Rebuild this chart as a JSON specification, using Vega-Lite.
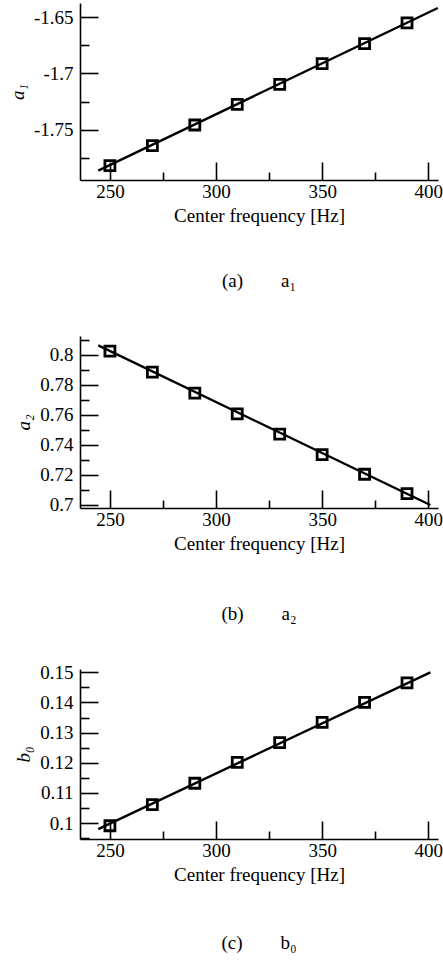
{
  "$schema": "https://vega.github.io/schema/vega-lite/v6.json",
  "padding": {"left": 8, "top": 3, "right": 0, "bottom": 4},
  "background": "white",
  "spacing": 39,
  "config": {
    "font": "Liberation Serif",
    "view": {"stroke": null},
    "axis": {
      "grid": false,
      "domainColor": "black",
      "domainWidth": 1.6,
      "tickColor": "black",
      "tickWidth": 1.6,
      "labelFont": "Liberation Serif",
      "labelFontSize": 19,
      "labelColor": "black",
      "titleFont": "Liberation Serif",
      "titleFontSize": 19,
      "titleFontWeight": "normal",
      "titleColor": "black",
      "labelOverlap": false,
      "labelFlush": false
    },
    "title": {"font": "Liberation Serif", "fontSize": 19, "fontWeight": "normal", "color": "black", "orient": "bottom"}
  },
  "datasets": {
    "a1": [
      {"f": 250, "v": -1.7816}, {"f": 270, "v": -1.7639}, {"f": 290, "v": -1.7456}, {"f": 310, "v": -1.7273},
      {"f": 330, "v": -1.7096}, {"f": 350, "v": -1.6912}, {"f": 370, "v": -1.6735}, {"f": 390, "v": -1.6552}
    ],
    "a1fit": [{"f": 244.5, "v": -1.786}, {"f": 404.5, "v": -1.642}],
    "a2": [
      {"f": 250, "v": 0.8024}, {"f": 270, "v": 0.7884}, {"f": 290, "v": 0.7744}, {"f": 310, "v": 0.7606},
      {"f": 330, "v": 0.747}, {"f": 350, "v": 0.7334}, {"f": 370, "v": 0.7203}, {"f": 390, "v": 0.7074}
    ],
    "a2fit": [{"f": 244.5, "v": 0.8062}, {"f": 401, "v": 0.6998}],
    "b0": [
      {"f": 250, "v": 0.0991}, {"f": 270, "v": 0.1061}, {"f": 290, "v": 0.1132}, {"f": 310, "v": 0.1201},
      {"f": 330, "v": 0.1267}, {"f": 350, "v": 0.1334}, {"f": 370, "v": 0.14}, {"f": 390, "v": 0.1465}
    ],
    "b0fit": [{"f": 244.5, "v": 0.098}, {"f": 401, "v": 0.15}]
  },
  "vconcat": [
    {
      "width": 358,
      "height": 177,
      "title": {"text": "(a)\u2003\u2003a₁", "offset": 47},
      "encoding": {
        "x": {"field": "f", "type": "quantitative", "scale": {"domain": [235.9, 404.6], "nice": false, "zero": false},
          "axis": {"title": "Center frequency [Hz]", "values": [250, 275, 300, 325, 350, 375, 400],
            "labelExpr": "datum.value % 50 === 0 ? datum.label : ''",
            "tickSize": {"condition": {"test": "datum.value % 50 === 0", "value": -18}, "value": -8},
            "labelPadding": 20, "titlePadding": -5}},
        "y": {"field": "v", "type": "quantitative", "scale": {"domain": [-1.7943, -1.6376], "nice": false, "zero": false},
          "axis": {"title": "a₁", "titleFontStyle": "italic", "values": [-1.775, -1.75, -1.725, -1.7, -1.675, -1.65],
            "format": ".2~f",
            "labelExpr": "round(datum.value*1000) % 50 === 0 ? replace(datum.label, '\u2212', '-') : ''",
            "tickSize": {"condition": {"test": "round(datum.value*1000) % 50 === 0", "value": -18}, "value": -9},
            "labelPadding": 25, "titlePadding": 6}}
      },
      "layer": [
        {"data": {"name": "a1fit"}, "mark": {"type": "line", "color": "black", "strokeWidth": 2.4}},
        {"data": {"name": "a1"}, "mark": {"type": "point", "shape": "square", "filled": false, "color": "black", "strokeWidth": 2.8, "size": 100, "opacity": 1}}
      ]
    },
    {
      "width": 358,
      "height": 172,
      "title": {"text": "(b)\u2003\u2003a₂", "offset": 52},
      "encoding": {
        "x": {"field": "f", "type": "quantitative", "scale": {"domain": [235.9, 404.6], "nice": false, "zero": false},
          "axis": {"title": "Center frequency [Hz]", "values": [250, 275, 300, 325, 350, 375, 400],
            "labelExpr": "datum.value % 50 === 0 ? datum.label : ''",
            "tickSize": {"condition": {"test": "datum.value % 50 === 0", "value": -18}, "value": -8},
            "labelPadding": 20, "titlePadding": -5}},
        "y": {"field": "v", "type": "quantitative", "scale": {"domain": [0.6978, 0.8125], "nice": false, "zero": false},
          "axis": {"title": "a₂", "titleFontStyle": "italic", "values": [0.7, 0.71, 0.72, 0.73, 0.74, 0.75, 0.76, 0.77, 0.78, 0.79, 0.8, 0.81],
            "format": ".2~f",
            "labelExpr": "round(datum.value*100) % 2 === 0 ? datum.label : ''",
            "tickSize": {"condition": {"test": "round(datum.value*100) % 2 === 0", "value": -18}, "value": -9},
            "labelPadding": 25, "titlePadding": 6}}
      },
      "layer": [
        {"data": {"name": "a2fit"}, "mark": {"type": "line", "color": "black", "strokeWidth": 2.4}},
        {"data": {"name": "a2"}, "mark": {"type": "point", "shape": "square", "filled": false, "color": "black", "strokeWidth": 2.8, "size": 100, "opacity": 1}}
      ]
    },
    {
      "width": 358,
      "height": 170,
      "title": {"text": "(c)\u2003\u2003b₀", "offset": 50},
      "encoding": {
        "x": {"field": "f", "type": "quantitative", "scale": {"domain": [235.9, 404.6], "nice": false, "zero": false},
          "axis": {"title": "Center frequency [Hz]", "values": [250, 275, 300, 325, 350, 375, 400],
            "labelExpr": "datum.value % 50 === 0 ? datum.label : ''",
            "tickSize": {"condition": {"test": "datum.value % 50 === 0", "value": -18}, "value": -8},
            "labelPadding": 20, "titlePadding": -5}},
        "y": {"field": "v", "type": "quantitative", "scale": {"domain": [0.0947, 0.1511], "nice": false, "zero": false},
          "axis": {"title": "b₀", "titleFontStyle": "italic", "values": [0.095, 0.1, 0.105, 0.11, 0.115, 0.12, 0.125, 0.13, 0.135, 0.14, 0.145, 0.15],
            "format": ".2~f",
            "labelExpr": "round(datum.value*1000) % 10 === 0 ? datum.label : ''",
            "tickSize": {"condition": {"test": "round(datum.value*1000) % 10 === 0", "value": -18}, "value": -9},
            "labelPadding": 25, "titlePadding": 6}}
      },
      "layer": [
        {"data": {"name": "b0fit"}, "mark": {"type": "line", "color": "black", "strokeWidth": 2.4}},
        {"data": {"name": "b0"}, "mark": {"type": "point", "shape": "square", "filled": false, "color": "black", "strokeWidth": 2.8, "size": 100, "opacity": 1}}
      ]
    }
  ]
}
